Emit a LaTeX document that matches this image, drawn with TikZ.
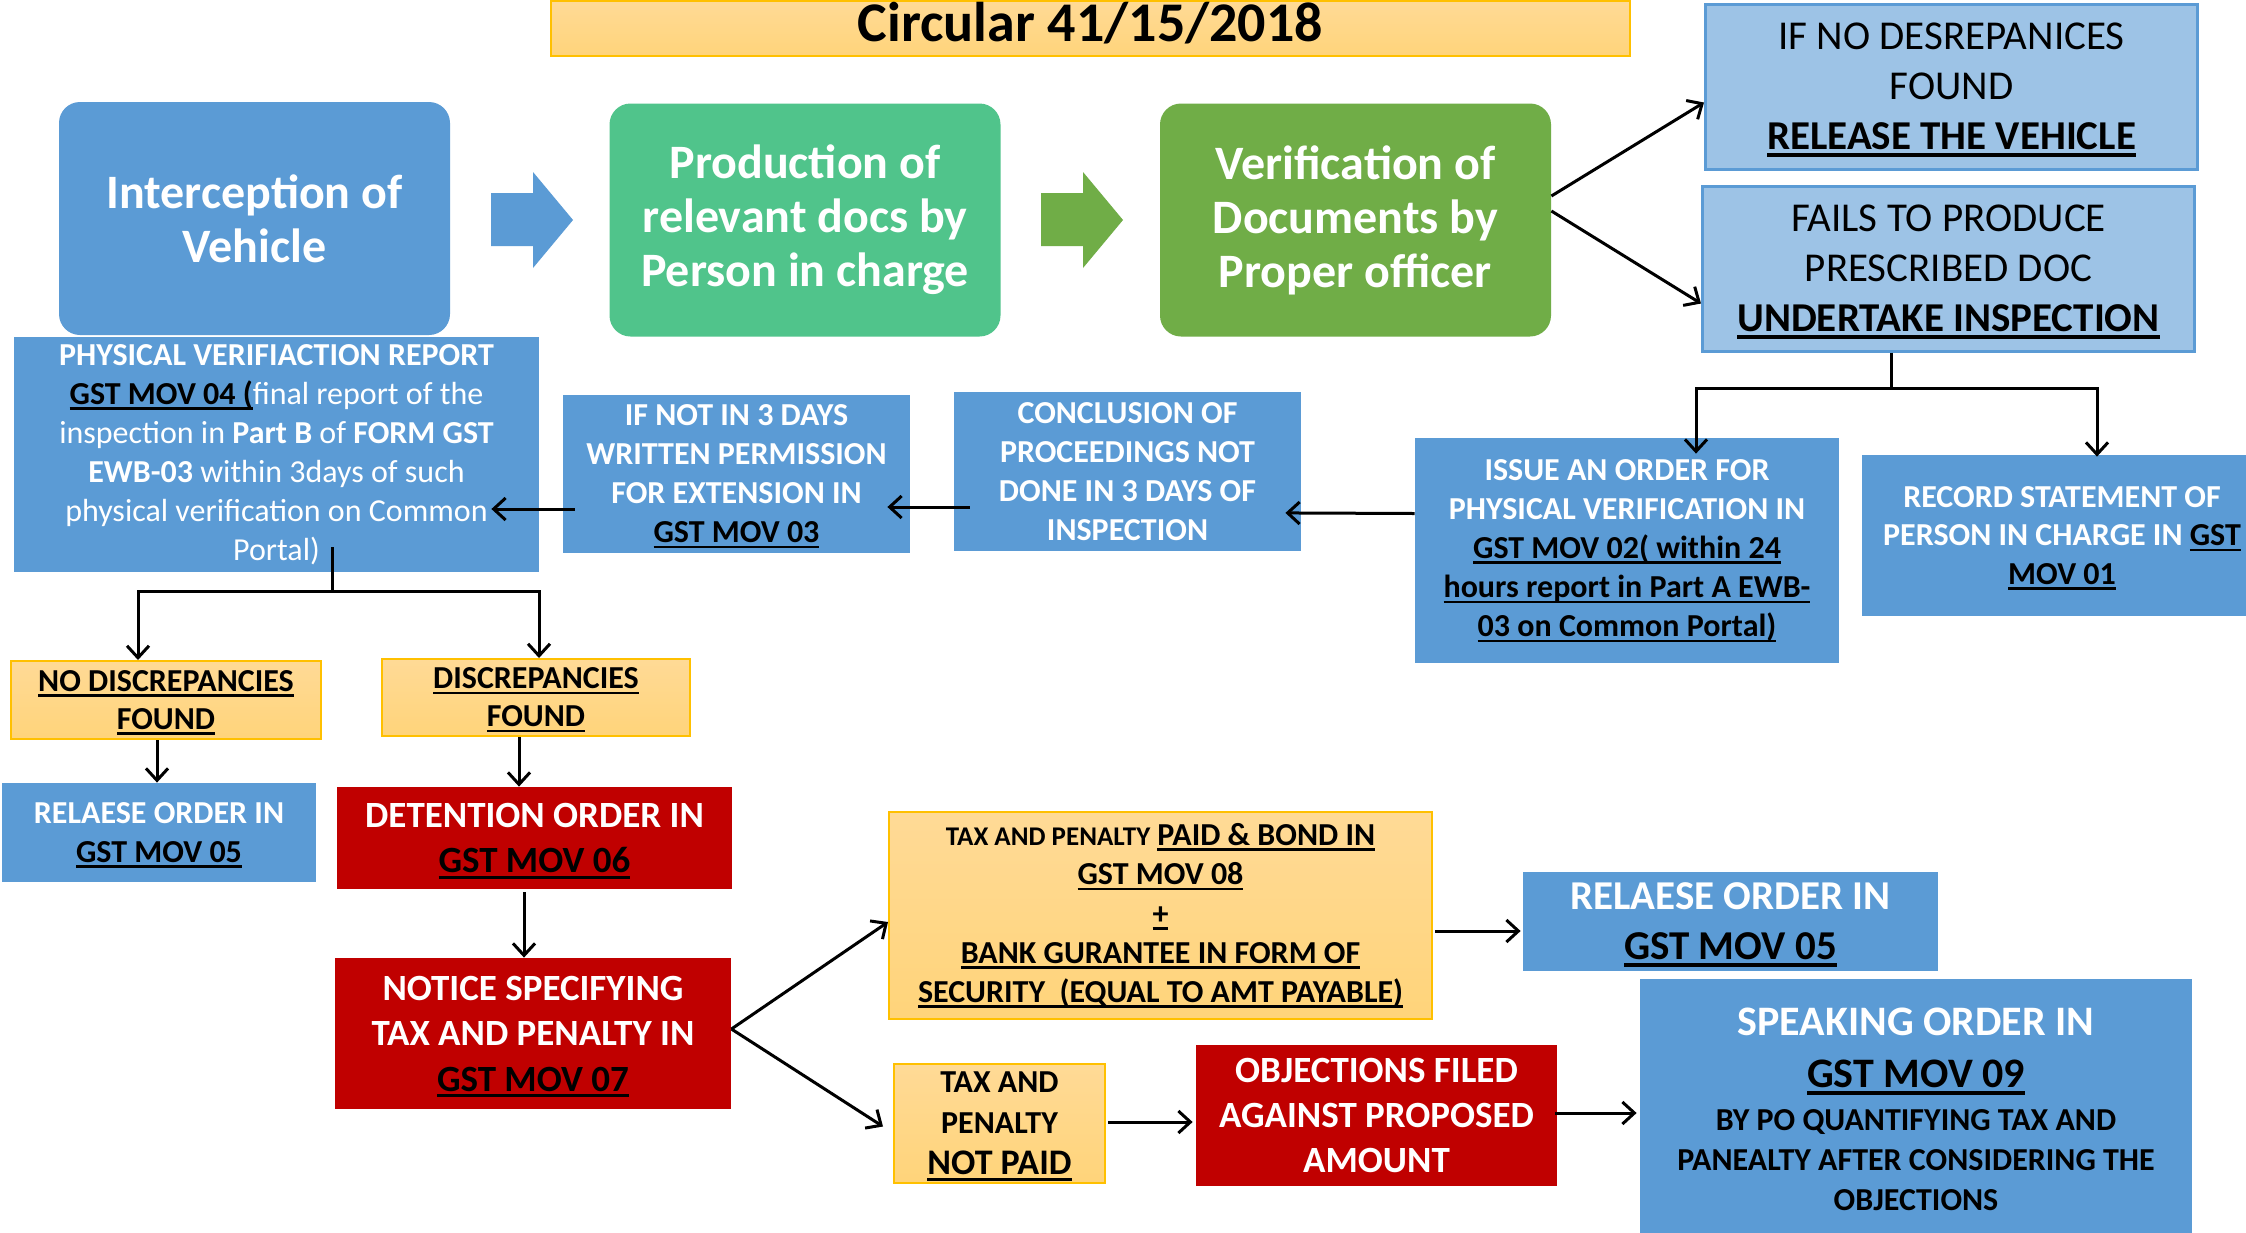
\documentclass[tikz,border=0pt]{standalone}
\usepackage{fontspec}
\setmainfont{Carlito}
\usetikzlibrary{arrows.meta,calc}
\definecolor{accentblue}{RGB}{91,155,213}
\definecolor{paleblue}{RGB}{157,195,230}
\definecolor{mintgreen}{RGB}{80,196,139}
\definecolor{leafgreen}{RGB}{112,173,71}
\definecolor{darkred}{RGB}{192,0,0}
\definecolor{goldtop}{RGB}{255,218,150}
\definecolor{goldbottom}{RGB}{255,212,122}
\definecolor{goldedge}{RGB}{255,192,0}
\newsavebox{\movbox}
\newcommand{\movref}[1]{\textcolor{black}{\sbox{\movbox}{#1}\rlap{\smash{\rule[-0.17em]{\wd\movbox}{0.085em}}}\usebox{\movbox}}}
\newcommand{\speakline}[1]{{\color{black}\fontsize{16}{19.5}\selectfont #1}}

\begin{document}
\begin{tikzpicture}[x=0.5pt, y=-0.5pt,
    roundbox/.style={rounded corners=10.5pt, inner sep=0pt, align=center, text=white,
        minimum width=195.5pt, minimum height=116.5pt, font=\fontsize{24}{27}\selectfont\bfseries},
    bluebox/.style={fill=accentblue, inner sep=0pt, align=center, text=white,
        font=\fontsize{16}{19.5}\selectfont\bfseries},
    redbox/.style={fill=darkred, inner sep=0pt, align=center, text=white,
        font=\fontsize{18.5}{22.5}\selectfont\bfseries},
    palebox/.style={fill=paleblue, draw=accentblue, line width=1.5pt, inner sep=0pt, align=center,
        minimum width=246pt, minimum height=82.5pt, font=\fontsize{20.5}{25}\selectfont},
    goldbox/.style={top color=goldtop, bottom color=goldbottom, draw=goldedge, line width=1pt,
        inner sep=0pt, align=center, font=\fontsize{16}{19}\selectfont\bfseries},
    flow/.style={line width=1.5pt, -{Straight Barb[length=6pt,width=11pt]}},
    tee/.style={line width=1.5pt}]

    \useasboundingbox (0,0) rectangle (2246,1232);
    \fill[white] (0,0) rectangle (2246,1232);

    % Title bar
    \node[goldbox, minimum width=539.5pt, minimum height=25.5pt, text height=20pt, text depth=7.5pt, font=\fontsize{28}{30}\selectfont\bfseries] (title) at (1090.5,28.5) {Circular 41/15/2018};

    % Top row
    \node[roundbox, fill=accentblue] (intercept) at (254.5,218.5) {Interception of\\Vehicle};
    \node[roundbox, fill=mintgreen] (produce) at (805,220) {Production of\\relevant docs by\\Person in charge};
    \node[roundbox, fill=leafgreen] (verify) at (1355.5,220) {Verification of\\Documents by\\Proper officer};

    % Block arrows between the top boxes
    \foreach \bx/\bc in {491/accentblue, 1041/leafgreen} {
        \fill[\bc] (\bx,193) -- ++(42,0) -- ++(0,-21) -- ++(40,48) -- ++(-40,48) -- ++(0,-22) -- ++(-42,0) -- cycle;
    }

    \node[palebox] (norelease) at (1951.5,86.5) {IF NO DESREPANICES\\FOUND\\\textbf{\movref{RELEASE THE VEHICLE}}};
    \node[palebox] (inspect) at (1948.5,268.5) {FAILS TO PRODUCE\\PRESCRIBED DOC\\\textbf{\movref{UNDERTAKE INSPECTION}}};

    % Middle row
    \node[bluebox, minimum width=212pt, minimum height=112.5pt, font=\fontsize{16}{19.6}\selectfont\bfseries] (issue) at (1627,550.5) {ISSUE AN ORDER FOR\\PHYSICAL VERIFICATION IN\\\movref{GST MOV 02( within 24}\\\movref{hours report in Part A EWB-}\\\movref{03 on Common Portal)}};
    \node[bluebox, minimum width=200pt, minimum height=80.5pt, font=\fontsize{16}{19.25}\selectfont\bfseries] (record) at (2062,535.5) {RECORD STATEMENT OF\\PERSON IN CHARGE IN \movref{GST}\\\movref{MOV 01}};
    \node[bluebox, minimum width=173.5pt, minimum height=79.5pt] (conclude) at (1127.5,471.5) {CONCLUSION OF\\PROCEEDINGS NOT\\DONE IN 3 DAYS OF\\INSPECTION};
    \node[bluebox, minimum width=173.5pt, minimum height=79pt] (extend) at (736.5,474) {IF NOT IN 3 DAYS\\WRITTEN PERMISSION\\FOR EXTENSION IN\\\movref{GST MOV 03}};
    \node[bluebox, minimum width=262.5pt, minimum height=117.5pt] (report) at (276.5,454.5) {PHYSICAL VERIFIACTION REPORT\\\movref{GST MOV 04 (}{\mdseries final report of the}\\{\mdseries inspection in }Part B{\mdseries\ of }FORM GST\\EWB-03{\mdseries\ within 3days of such}\\{\mdseries physical verification on Common}\\{\mdseries Portal)}};

    % Lower left
    \node[goldbox, minimum width=155pt, minimum height=39pt] (nodisc) at (166,700) {\movref{NO DISCREPANCIES}\\\movref{FOUND}};
    \node[goldbox, minimum width=154pt, minimum height=38.5pt] (disc) at (536,697.5) {\movref{DISCREPANCIES}\\\movref{FOUND}};
    \node[bluebox, minimum width=157pt, minimum height=49.5pt] (release1) at (159,832.5) {RELAESE ORDER IN\\\movref{GST MOV 05}};
    \node[redbox, minimum width=197.5pt, minimum height=51pt] (detain) at (534.5,838) {DETENTION ORDER IN\\\movref{GST MOV 06}};
    \node[redbox, minimum width=198pt, minimum height=75.5pt, font=\fontsize{18.5}{22.75}\selectfont\bfseries] (notice) at (533,1033.5) {NOTICE SPECIFYING\\TAX AND PENALTY IN\\\movref{GST MOV 07}};

    % Lower right
    \node[goldbox, minimum width=271.5pt, minimum height=103.5pt, font=\fontsize{16}{19.6}\selectfont\bfseries] (taxpaid) at (1160.5,915.5) {{\fontsize{13.5}{19.6}\selectfont TAX AND PENALTY} \movref{PAID \& BOND IN}\\\movref{GST MOV 08}\\\movref{+}\\\movref{BANK GURANTEE IN FORM OF}\\\movref{SECURITY\ \ (EQUAL TO AMT PAYABLE)}};
    \node[bluebox, minimum width=207.5pt, minimum height=49.5pt, font=\fontsize{20.5}{25}\selectfont\bfseries] (release2) at (1730.5,921.5) {RELAESE ORDER IN\\\movref{GST MOV 05}};
    \node[goldbox, minimum width=105.5pt, minimum height=59.5pt, font=\fontsize{16}{20.5}\selectfont\bfseries] (notpaid) at (999.5,1123.5) {TAX AND\\PENALTY\\{\fontsize{18}{20.5}\selectfont\movref{NOT PAID}}};
    \node[redbox, minimum width=180.5pt, minimum height=70.5pt] (object) at (1376.5,1115.5) {OBJECTIONS FILED\\AGAINST PROPOSED\\AMOUNT};
    \node[bluebox, minimum width=276pt, minimum height=131pt, font=\fontsize{21}{20}\selectfont\bfseries] (speak) at (1916,1109.5) {SPEAKING ORDER IN\\[6pt]\movref{GST MOV 09}\\[1.5pt]\speakline{BY PO QUANTIFYING TAX AND}\\\speakline{PANEALTY AFTER CONSIDERING THE}\\\speakline{OBJECTIONS}};

    % Verification outcomes
    \draw[flow] ($(verify.east)+(0,-24)$) -- ($(norelease.west)+(0,16)$);
    \draw[flow] ($(verify.east)+(0,-9)$) -- ($(inspect.west)+(0,35)$);

    % Inspection branches
    \draw[tee] ($(inspect.south)+(-57,0)$) -- ++(0,36) coordinate (inspectsplit);
    \draw[flow, shorten >=-8pt] (inspectsplit) -| ($(issue.north)+(69,0)$);
    \draw[flow, shorten >=-1pt] (inspectsplit) -| ($(record.north)+(35,0)$);

    % Back along the middle row
    \draw[flow, shorten >=-8pt] ($(issue.west)+(0,-37)$) -- ($(conclude.east)+(0,41.5)$);
    \draw[flow, shorten <=-8pt, shorten >=-11.5pt] ($(conclude.west)+(0,35.5)$) -- ($(extend.east)+(0,33)$);
    \draw[flow, shorten <=-6pt, shorten >=-24pt] ($(extend.west)+(0,35)$) -- ($(report.east)+(0,54.5)$);

    % Report outcomes
    \draw[tee] ($(report.south)+(55.5,-25)$) -- ++(0,44) coordinate (reportsplit);
    \draw[flow] (reportsplit) -| ($(nodisc.north)+(-28,0)$);
    \draw[flow] (reportsplit) -| ($(disc.north)+(3,0)$);
    \draw[flow] ($(nodisc.south)+(-9,0)$) -- ($(release1.north)+(-2,0)$);
    \draw[flow] ($(disc.south)+(-17,0)$) -- ($(detain.north)+(-15.5,0)$);
    \draw[flow] ($(detain.south)+(-10.5,3)$) -- ($(notice.north)+(-9,0)$);

    % Notice outcomes
    \draw[flow] ($(notice.east)+(0,-4.5)$) -- ($(taxpaid.west)+(0,6.5)$);
    \draw[flow] ($(notice.east)+(0,-4.5)$) -- ($(notpaid.west)+(-10,3)$);

    % Final steps
    \draw[flow] ($(taxpaid.east)+(2,15.5)$) -- ($(release2.west)+(-2,9.5)$);
    \draw[flow] ($(notpaid.east)+(2,-1.5)$) -- ($(object.west)+(-3,6.5)$);
    \draw[flow] ($(object.east)+(-2,-2.5)$) -- ($(speak.west)+(-3,3.5)$);

\end{tikzpicture}
\end{document}
